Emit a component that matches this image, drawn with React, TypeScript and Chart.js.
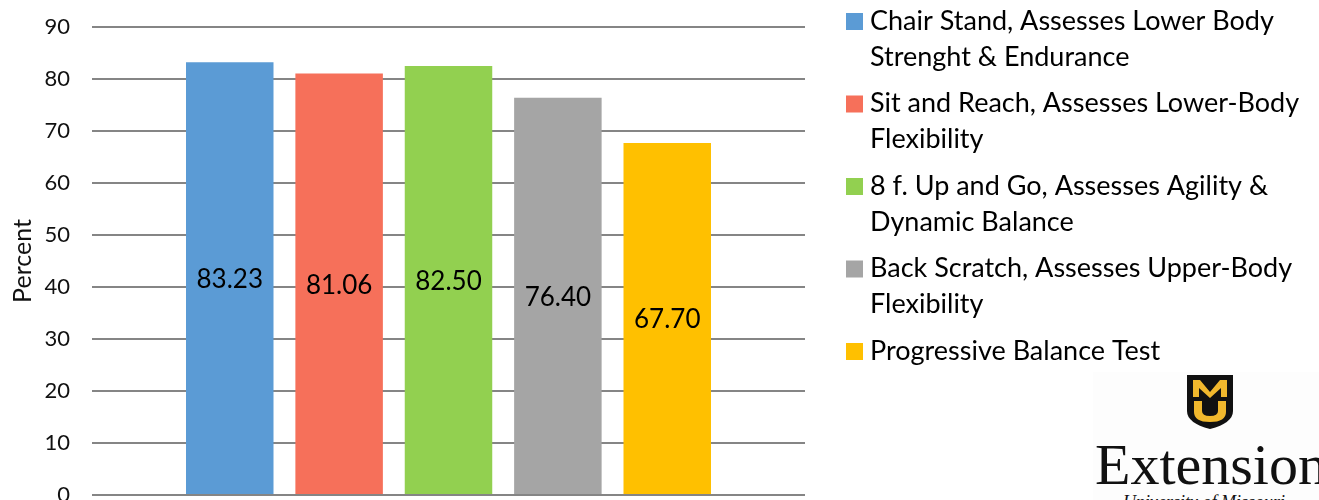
import React, { useEffect, useRef } from "react";
import { Chart, registerables } from "chart.js";

Chart.register(...registerables);

const categories = [""];
const seriesLabels: string[][] = [
  ["Chair Stand, Assesses Lower Body", "Strenght & Endurance"],
  ["Sit and Reach, Assesses Lower-Body", "Flexibility"],
  ["8 f. Up and Go, Assesses Agility &", "Dynamic Balance"],
  ["Back Scratch, Assesses Upper-Body", "Flexibility"],
  ["Progressive Balance Test"],
];
const seriesValues = [83.23, 81.06, 82.5, 76.4, 67.7];
const seriesColors = ["#5B9BD5", "#F6705A", "#92D050", "#A5A5A5", "#FFC000"];
const yTicks = [0, 10, 20, 30, 40, 50, 60, 70, 80, 90];

const FONT = "Lato, 'Open Sans', sans-serif";

const valueLabelPlugin = {
  id: "valueLabels",
  afterDatasetsDraw(chart: any) {
    const ctx = chart.ctx;
    ctx.save();
    ctx.font = `26px ${FONT}`;
    ctx.fillStyle = "#000";
    ctx.textAlign = "center";
    ctx.textBaseline = "middle";
    chart.data.datasets.forEach((ds: any, i: number) => {
      const meta = chart.getDatasetMeta(i);
      meta.data.forEach((bar: any, j: number) => {
        const v = ds.data[j];
        const y = (bar.y + bar.base) / 2 + 1.5;
        ctx.fillText(Number(v).toFixed(2), bar.x, y);
      });
    });
    ctx.restore();
  },
};

const legendPlugin = {
  id: "wrapLegend",
  afterDraw(chart: any) {
    const ctx = chart.ctx;
    ctx.save();
    ctx.font = `27px ${FONT}`;
    ctx.textBaseline = "middle";
    ctx.textAlign = "left";
    const boxX = 846;
    const textX = 870;
    const startY = 21;
    const entryGap = 82.5;
    const lineGap = 36;
    chart.data.datasets.forEach((ds: any, i: number) => {
      const y0 = startY + i * entryGap;
      ctx.fillStyle = ds.backgroundColor;
      ctx.fillRect(boxX, y0 - 8, 17, 17);
      ctx.fillStyle = "#000";
      (ds.lines as string[]).forEach((line: string, k: number) => {
        ctx.fillText(line, textX, y0 + k * lineGap);
      });
    });
    ctx.restore();
  },
};

function Logo() {
  return (
    <div
      style={{
        position: "absolute",
        left: 1093,
        top: 372,
        width: 226,
        height: 128,
        background: "#fdfdfd",
        overflow: "hidden",
      }}
    >
      <svg
        width="46"
        height="54"
        viewBox="0 0 46 54"
        style={{ position: "absolute", left: 94, top: 3 }}
      >
        <path d="M0 0 H46 V36 Q46 48 23 54 Q0 48 0 36 Z" fill="#111" />
        <path d="M6 5 H13 L23 17 L33 5 H40 V22 H34 V13 L23 23 L12 13 V22 H6 Z" fill="#F1B82D" />
        <path d="M7 26 H15 V36 Q15 41 23 41 Q31 41 31 36 V26 H39 V37 Q39 47 23 47 Q7 47 7 37 Z" fill="#F1B82D" />
      </svg>
      <div
        style={{
          position: "absolute",
          left: 2,
          top: 64,
          fontFamily: "'Liberation Serif', 'DejaVu Serif', serif",
          fontSize: 58,
          lineHeight: "58px",
          color: "#111",
          whiteSpace: "nowrap",
        }}
      >
        Extension
      </div>
      <div
        style={{
          position: "absolute",
          left: 30,
          top: 120,
          fontFamily: "'Liberation Serif', serif",
          fontStyle: "italic",
          fontSize: 18,
          color: "#111",
          whiteSpace: "nowrap",
        }}
      >
        University of Missouri
      </div>
    </div>
  );
}

export default function App() {
  const ref = useRef<HTMLCanvasElement | null>(null);
  useEffect(() => {
    if (!ref.current) return;
    const chart = new Chart(ref.current, {
      type: "bar",
      data: {
        labels: categories,
        datasets: seriesValues.map((v, i) => ({
          label: seriesLabels[i].join(" "),
          lines: seriesLabels[i],
          data: [v],
          backgroundColor: seriesColors[i],
          borderWidth: 0,
          barPercentage: 0.8,
          categoryPercentage: 0.767,
        })) as any,
      },
      options: {
        responsive: false,
        animation: false,
        maintainAspectRatio: false,
        layout: { padding: { top: 27, right: 514, bottom: 5, left: 8 } },
        plugins: {
          legend: { display: false },
          tooltip: { enabled: false },
          title: { display: false },
        },
        scales: {
          x: {
            ticks: { display: false },
            grid: { display: false, drawTicks: false },
            border: { display: false },
            afterFit: (axis: any) => {
              axis.height = 0;
              axis.paddingLeft = 0;
              axis.paddingRight = 0;
            },
          },
          y: {
            min: 0,
            max: 90,
            afterBuildTicks: (axis: any) => {
              axis.ticks = yTicks.map((v) => ({ value: v }));
            },
            afterFit: (axis: any) => {
              axis.width = 84;
              axis.paddingTop = 0;
              axis.paddingBottom = 0;
            },
            ticks: {
              font: { family: FONT, size: 22 },
              color: "#111",
              padding: 22,
            },
            grid: { color: "#858585", lineWidth: 2, drawTicks: false },
            border: { display: false },
            title: {
              display: true,
              text: "Percent",
              font: { family: FONT, size: 25 },
              color: "#111",
              padding: { top: 0, bottom: 4 },
            },
          },
        },
      },
      plugins: [valueLabelPlugin, legendPlugin],
    });
    return () => chart.destroy();
  }, []);
  return (
    <div
      style={{
        position: "fixed",
        left: 0,
        top: 0,
        width: 1319,
        height: 500,
        overflow: "hidden",
        background: "#fff",
      }}
    >
      <canvas ref={ref} width={1319} height={500} style={{ display: "block" }} />
      <Logo />
    </div>
  );
}
